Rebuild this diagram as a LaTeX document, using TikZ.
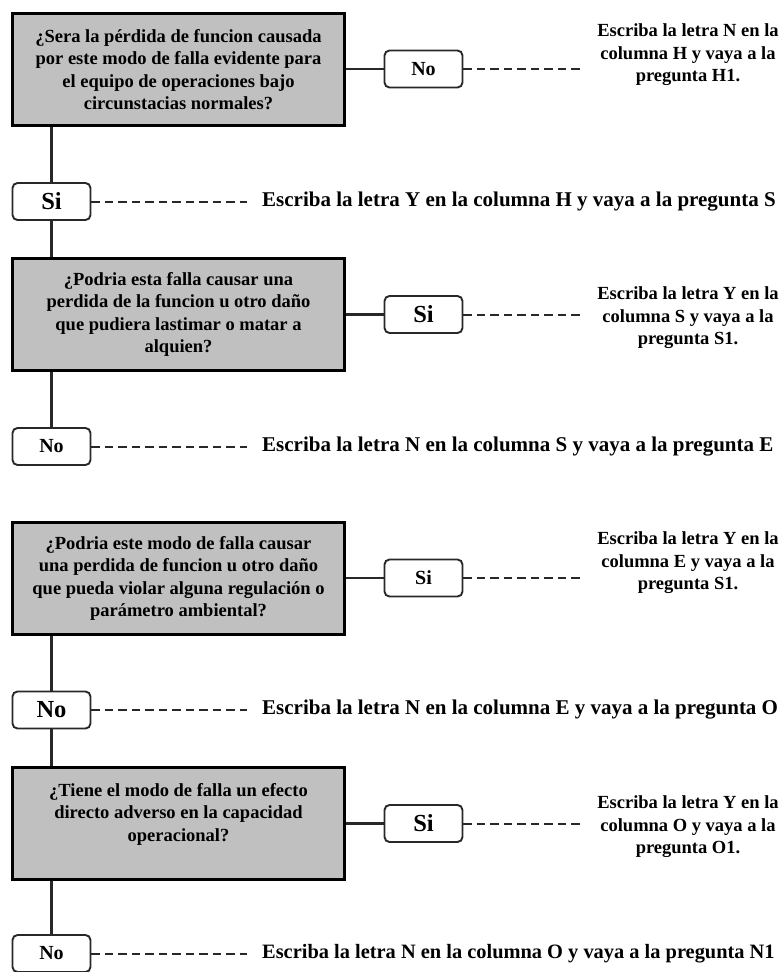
\documentclass[tikz,border=0pt]{standalone}
\usepackage{fontspec}
\setmainfont{Liberation Serif}
\definecolor{qgray}{RGB}{192,192,192}
\definecolor{ink}{RGB}{40,40,40}
\begin{document}
\begin{tikzpicture}[x=1pt,y=-1pt,
  question/.style={draw=black, line width=3pt, fill=qgray, minimum width=332pt,
    minimum height=112pt, inner sep=0pt, align=center,
    font=\bfseries\fontsize{18.5}{22.3}\selectfont},
  answer/.style={draw=ink, line width=1.9pt, rounded corners=5pt, fill=white,
    minimum width=78pt, minimum height=37pt, inner sep=0pt},
  small/.style={font=\bfseries\fontsize{20}{24}\selectfont},
  large/.style={font=\bfseries\fontsize{24.5}{28}\selectfont},
  note/.style={align=center, inner sep=0pt, font=\bfseries\fontsize{18.5}{22.5}\selectfont},
  wide/.style={anchor=west, inner sep=0pt, font=\bfseries\fontsize{21}{24}\selectfont},
  link/.style={draw=ink, line width=2.2pt},
  lead/.style={draw=ink, line width=2pt, dash pattern=on 8.5pt off 5pt}
]
\useasboundingbox (0,0) rectangle (784,972);

% decision boxes
\node[question] (q1) at (178.5,69.5) {¿Sera la pérdida de funcion causada\\por este modo de falla evidente para\\el equipo de operaciones bajo\\circunstacias normales?};
\node[question] (q2) at (178.5,314.5) {¿Podria esta falla causar una\\perdida de la funcion u otro daño\\que pudiera lastimar o matar a\\alquien?};
\node[question] (q3) at (178.5,578.5) {¿Podria este modo de falla causar\\una perdida de funcion u otro daño\\que pueda violar alguna regulación o\\parámetro ambiental?};
\node[question] (q4) at (178.5,823.5) {¿Tiene el modo de falla un efecto\\directo adverso en la  capacidad\\operacional?\\\mbox{}};

% answers on the vertical branch
\node[answer, large] (a1) at (51.5,201.5) {Si};
\node[answer, small] (a2) at (51.5,446.5) {No};
\node[answer, large] (a3) at (51.5,710) {No};
\node[answer, small] (a4) at (51.5,953.5) {No};

% answers on the horizontal branch
\node[answer, small] (r1) at (423.5,69) {No};
\node[answer, large] (r2) at (423.5,314.5) {Si};
\node[answer, small] (r3) at (423.5,578) {Si};
\node[answer, large] (r4) at (423.5,823.5) {Si};

% instructions to the right of the side answers
\node[note] (t1) at (688,55) {Escriba la letra N en la\\columna H y vaya a la\\pregunta H1.};
\node[note] (t2) at (688,318) {Escriba la letra Y en la\\columna S y vaya a la\\pregunta S1.};
\node[note] (t3) at (688,563) {Escriba la letra Y en la\\columna E y vaya a la\\pregunta S1.};
\node[note] (t4) at (688,827) {Escriba la letra Y en la\\columna O y vaya a la\\pregunta O1.};

% instructions after the branch answers
\node[wide] (w1) at (262,201.5) {Escriba la letra Y en la columna H y vaya a la pregunta S};
\node[wide] (w2) at (262,446.5) {Escriba la letra N en la columna S y vaya a la pregunta E};
\node[wide] (w3) at (262,710) {Escriba la letra N en la columna E y vaya a la pregunta O};
\node[wide, font=\bfseries\fontsize{20.4}{24}\selectfont] (w4) at (262,953.5) {Escriba la letra N en la columna O y vaya a la pregunta N1};

% solid connectors
\draw[link] (q1.south -| a1) -- (a1.north);
\draw[link] (a1.south) -- (q2.north -| a1);
\draw[link] (q2.south -| a2) -- (a2.north);
\draw[link] (q3.south -| a3) -- (a3.north);
\draw[link] (a3.south) -- (q4.north -| a3);
\draw[link] (q4.south -| a4) -- (a4.north);
\draw[link] (q1.east |- r1) -- (r1.west);
\draw[link] (q2.east |- r2) -- (r2.west);
\draw[link] (q3.east |- r3) -- (r3.west);
\draw[link] (q4.east |- r4) -- (r4.west);

% dashed leaders
\coordinate (e1) at (247,201.5);
\coordinate (e2) at (247,446.5);
\coordinate (e3) at (247,710);
\coordinate (e4) at (247,953.5);
\coordinate (f1) at (580,69);
\coordinate (f2) at (580,314.5);
\coordinate (f3) at (580,578);
\coordinate (f4) at (580,823.5);
\foreach \n in {1,2,3,4} {
  \draw[lead] (a\n.east) -- (e\n);
  \draw[lead] (r\n.east) -- (f\n);
}
\end{tikzpicture}
\end{document}
